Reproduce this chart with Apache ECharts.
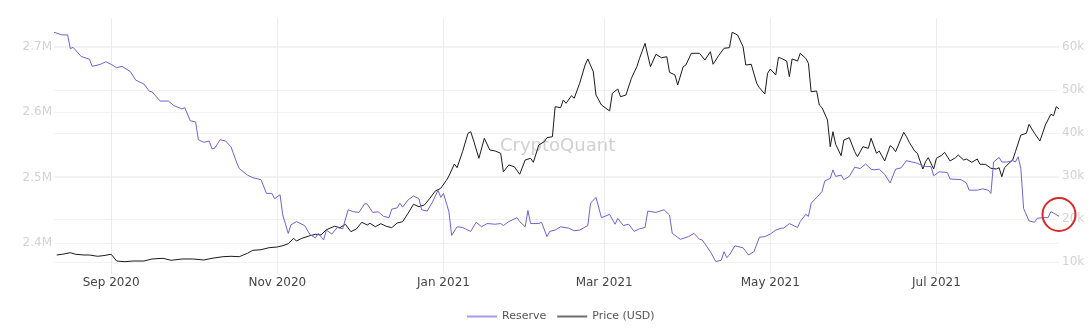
<!DOCTYPE html>
<html><head><meta charset="utf-8">
<script src="https://cdn.jsdelivr.net/npm/echarts@6/dist/echarts.min.js"></script>
<style>html,body{margin:0;padding:0;background:#fff}#c{width:1090px;height:330px}</style>
</head><body><div id="c"></div>
<script>
// ---- data ----
const firstDay = '2020-08-11';
const lastDay = '2021-08-15';
const xTickDates = ['2020-09-01','2020-11-01','2021-01-01','2021-03-01','2021-05-01','2021-07-01'];
const xTickLabels = ['Sep 2020','Nov 2020','Jan 2021','Mar 2021','May 2021','Jul 2021'];
const reserveTicks = [2.4, 2.5, 2.6, 2.7];          // millions BTC
const priceTicks = [10000, 20000, 30000, 40000, 50000, 60000];
const seriesNames = ['Reserve', 'Price (USD)'];

// Reserve (millions BTC)
const reserveData = [
['2020-08-11',2.722],['2020-08-14',2.718],['2020-08-16',2.718],['2020-08-17',2.697],['2020-08-18',2.699],['2020-08-21',2.685],['2020-08-24',2.681],['2020-08-25',2.670],['2020-08-28',2.673],['2020-08-30',2.677],
['2020-09-01',2.673],['2020-09-03',2.668],['2020-09-05',2.670],['2020-09-08',2.662],['2020-09-10',2.649],['2020-09-13',2.643],['2020-09-15',2.632],['2020-09-16',2.631],['2020-09-19',2.617],['2020-09-22',2.617],['2020-09-24',2.610],['2020-09-27',2.605],['2020-09-28',2.607],['2020-09-30',2.587],
['2020-10-02',2.585],['2020-10-03',2.558],['2020-10-05',2.554],['2020-10-07',2.556],['2020-10-08',2.544],['2020-10-09',2.545],['2020-10-11',2.558],['2020-10-13',2.556],['2020-10-15',2.547],['2020-10-17',2.524],['2020-10-18',2.514],['2020-10-21',2.504],['2020-10-23',2.500],['2020-10-26',2.497],['2020-10-28',2.476],['2020-10-30',2.476],['2020-10-31',2.468],
['2020-11-02',2.474],['2020-11-03',2.443],['2020-11-05',2.415],['2020-11-06',2.428],['2020-11-08',2.433],['2020-11-11',2.427],['2020-11-13',2.413],['2020-11-15',2.408],['2020-11-16',2.415],['2020-11-18',2.405],['2020-11-19',2.420],['2020-11-21',2.414],['2020-11-23',2.424],['2020-11-25',2.422],['2020-11-27',2.451],['2020-11-29',2.448],
['2020-12-01',2.447],['2020-12-03',2.460],['2020-12-04',2.460],['2020-12-06',2.447],['2020-12-08',2.448],['2020-12-10',2.441],['2020-12-12',2.439],['2020-12-13',2.452],['2020-12-15',2.454],['2020-12-16',2.461],['2020-12-17',2.455],['2020-12-19',2.466],['2020-12-21',2.472],['2020-12-23',2.468],['2020-12-24',2.451],['2020-12-26',2.449],['2020-12-28',2.463],['2020-12-30',2.481],['2020-12-31',2.470],
['2021-01-01',2.476],['2021-01-03',2.448],['2021-01-04',2.412],['2021-01-06',2.425],['2021-01-08',2.424],['2021-01-10',2.420],['2021-01-11',2.418],['2021-01-13',2.432],['2021-01-15',2.425],['2021-01-17',2.430],['2021-01-20',2.429],['2021-01-22',2.430],['2021-01-23',2.427],['2021-01-25',2.433],['2021-01-28',2.439],['2021-01-29',2.433],['2021-01-31',2.425],
['2021-02-01',2.450],['2021-02-02',2.430],['2021-02-05',2.430],['2021-02-06',2.432],['2021-02-08',2.410],['2021-02-09',2.418],['2021-02-11',2.420],['2021-02-13',2.425],['2021-02-16',2.423],['2021-02-18',2.419],['2021-02-20',2.420],['2021-02-23',2.427],['2021-02-24',2.461],['2021-02-26',2.470],['2021-02-28',2.439],
['2021-03-03',2.444],['2021-03-05',2.429],['2021-03-06',2.438],['2021-03-08',2.427],['2021-03-10',2.429],['2021-03-12',2.418],['2021-03-14',2.422],['2021-03-16',2.424],['2021-03-17',2.449],['2021-03-20',2.447],['2021-03-23',2.451],['2021-03-25',2.443],['2021-03-26',2.415],['2021-03-29',2.406],
['2021-04-01',2.410],['2021-04-03',2.415],['2021-04-05',2.406],['2021-04-06',2.405],['2021-04-09',2.387],['2021-04-11',2.372],['2021-04-13',2.374],['2021-04-14',2.387],['2021-04-15',2.378],['2021-04-16',2.382],['2021-04-18',2.396],['2021-04-21',2.393],['2021-04-23',2.382],['2021-04-25',2.387],['2021-04-27',2.409],['2021-04-29',2.410],
['2021-05-01',2.414],['2021-05-03',2.420],['2021-05-05',2.423],['2021-05-06',2.423],['2021-05-08',2.430],['2021-05-11',2.424],['2021-05-12',2.433],['2021-05-14',2.444],['2021-05-15',2.441],['2021-05-16',2.461],['2021-05-19',2.474],['2021-05-20',2.479],['2021-05-21',2.495],['2021-05-23',2.499],['2021-05-24',2.512],['2021-05-25',2.502],['2021-05-27',2.504],['2021-05-28',2.497],['2021-05-30',2.502],
['2021-06-01',2.516],['2021-06-03',2.514],['2021-06-05',2.521],['2021-06-07',2.513],['2021-06-08',2.512],['2021-06-10',2.513],['2021-06-12',2.505],['2021-06-14',2.492],['2021-06-16',2.513],['2021-06-18',2.515],['2021-06-20',2.526],['2021-06-22',2.524],['2021-06-24',2.522],['2021-06-26',2.518],['2021-06-27',2.517],['2021-06-29',2.517],['2021-06-30',2.503],
['2021-07-02',2.509],['2021-07-05',2.508],['2021-07-06',2.498],['2021-07-10',2.497],['2021-07-12',2.492],['2021-07-13',2.481],['2021-07-16',2.481],['2021-07-18',2.483],['2021-07-20',2.481],['2021-07-21',2.476],['2021-07-22',2.524],['2021-07-24',2.531],['2021-07-25',2.524],['2021-07-27',2.524],['2021-07-29',2.526],['2021-07-30',2.524],['2021-07-31',2.532],
['2021-08-01',2.514],['2021-08-02',2.453],['2021-08-04',2.434],['2021-08-06',2.432],['2021-08-07',2.438],['2021-08-09',2.439],['2021-08-11',2.439],['2021-08-12',2.448],['2021-08-13',2.446],['2021-08-15',2.441]
];

// Price (USD)
const priceData = [
['2020-08-12',11630],['2020-08-14',11790],['2020-08-17',12160],['2020-08-19',11790],['2020-08-22',11630],['2020-08-24',11630],['2020-08-27',11330],['2020-08-29',11470],
['2020-09-01',11790],['2020-09-03',10230],['2020-09-06',10070],['2020-09-09',10230],['2020-09-13',10230],['2020-09-16',10700],['2020-09-20',10860],['2020-09-23',10400],['2020-09-24',10470],['2020-09-27',10700],
['2020-10-01',10700],['2020-10-05',10470],['2020-10-08',10860],['2020-10-12',11230],['2020-10-15',11330],['2020-10-18',11230],['2020-10-21',12020],['2020-10-23',12720],['2020-10-26',12860],['2020-10-29',13330],
['2020-11-01',13490],['2020-11-03',13790],['2020-11-05',14260],['2020-11-07',15510],['2020-11-08',14880],['2020-11-10',15510],['2020-11-13',16120],['2020-11-15',16440],['2020-11-17',16280],['2020-11-19',17510],['2020-11-22',18300],['2020-11-24',17980],['2020-11-26',18770],['2020-11-28',17050],['2020-11-30',17670],
['2020-12-02',19230],['2020-12-04',18600],['2020-12-05',19000],['2020-12-07',18210],['2020-12-09',18910],['2020-12-11',18300],['2020-12-13',17980],['2020-12-15',19070],['2020-12-17',19370],['2020-12-19',21330],['2020-12-21',23420],['2020-12-23',22860],['2020-12-25',23260],['2020-12-27',24810],['2020-12-29',26510],['2020-12-31',27140],
['2021-01-02',28910],['2021-01-03',30000],['2021-01-05',32790],['2021-01-06',31930],['2021-01-08',35650],['2021-01-10',39930],['2021-01-11',40300],['2021-01-12',38370],['2021-01-14',34120],['2021-01-16',38770],['2021-01-18',36050],['2021-01-20',35810],['2021-01-22',35280],['2021-01-23',31000],['2021-01-25',32560],['2021-01-27',32160],['2021-01-29',30400],['2021-01-31',33720],
['2021-02-02',34120],['2021-02-03',33190],['2021-02-05',37210],['2021-02-07',37980],['2021-02-08',38910],['2021-02-10',39140],['2021-02-11',46120],['2021-02-13',45880],['2021-02-14',47670],['2021-02-15',46910],['2021-02-17',48670],['2021-02-18',48070],['2021-02-20',51560],['2021-02-22',55810],['2021-02-23',57210],['2021-02-25',54260],['2021-02-26',48840],['2021-02-28',46510],
['2021-03-03',45120],['2021-03-04',49230],['2021-03-06',50230],['2021-03-07',48440],['2021-03-09',48840],['2021-03-11',52720],['2021-03-13',55420],['2021-03-14',57370],['2021-03-16',60860],['2021-03-18',55420],['2021-03-20',58300],['2021-03-22',57510],['2021-03-24',57740],['2021-03-25',54120],['2021-03-27',53490],['2021-03-28',51160],['2021-03-30',55420],['2021-03-31',55810],
['2021-04-02',58530],['2021-04-05',58530],['2021-04-07',56980],['2021-04-09',58910],['2021-04-10',55980],['2021-04-12',57980],['2021-04-14',59700],['2021-04-16',59840],['2021-04-17',63420],['2021-04-19',62790],['2021-04-21',60070],['2021-04-22',55810],['2021-04-24',55980],['2021-04-26',51560],['2021-04-27',50530],['2021-04-29',49070],['2021-04-30',53880],
['2021-05-01',54880],['2021-05-03',53490],['2021-05-04',57600],['2021-05-05',57370],['2021-05-07',56740],['2021-05-08',53090],['2021-05-09',57210],['2021-05-11',56740],['2021-05-12',58530],['2021-05-14',57370],['2021-05-15',56210],['2021-05-16',49600],['2021-05-18',49770],['2021-05-19',46510],['2021-05-20',45880],['2021-05-22',43020],['2021-05-23',36810],['2021-05-24',40300],['2021-05-25',37370],['2021-05-27',34720],['2021-05-28',38370],['2021-05-30',38910],
['2021-06-01',35650],['2021-06-02',34490],['2021-06-04',36810],['2021-06-06',36440],['2021-06-07',38770],['2021-06-09',35280],['2021-06-10',35810],['2021-06-12',33490],['2021-06-14',37050],['2021-06-15',36580],['2021-06-16',35650],['2021-06-19',40160],['2021-06-20',39140],['2021-06-21',37840],['2021-06-23',35810],['2021-06-24',35280],['2021-06-26',31630],['2021-06-27',33330],['2021-06-28',34260],['2021-06-30',31630],
['2021-07-01',34120],['2021-07-03',34880],['2021-07-04',35510],['2021-07-06',33490],['2021-07-08',34260],['2021-07-09',34880],['2021-07-11',33720],['2021-07-12',33950],['2021-07-14',33190],['2021-07-16',33950],['2021-07-17',32720],['2021-07-19',32720],['2021-07-21',31790],['2021-07-23',31630],['2021-07-24',31930],['2021-07-25',29840],['2021-07-26',31930],['2021-07-28',33190],['2021-07-29',33720],['2021-07-30',35650],
['2021-08-01',39530],['2021-08-03',39930],['2021-08-04',42020],['2021-08-06',39930],['2021-08-08',38140],['2021-08-10',41860],['2021-08-12',44350],['2021-08-13',44020],['2021-08-14',46120],['2021-08-15',45580]
];

// ---- daily category axis ----
const categories = [];
(function () {
  const t0 = Date.parse(firstDay + 'T00:00:00Z'), t1 = Date.parse(lastDay + 'T00:00:00Z');
  for (let t = t0; t <= t1; t += 86400000) categories.push(new Date(t).toISOString().slice(0, 10));
})();
const tickLabelMap = {};
xTickDates.forEach((d, i) => { tickLabelMap[d] = xTickLabels[i]; });
const isTick = (idx, val) => tickLabelMap[val] !== undefined;

const FONT = 'DejaVu Sans';
const chart = echarts.init(document.getElementById('c'), null, {renderer: 'canvas'});
chart.setOption({
  animation: false,
  backgroundColor: '#ffffff',
  textStyle: {fontFamily: FONT},
  grid: {left: 54, right: 31, top: 18, bottom: 62, containLabel: false},
  legend: {
    data: [
      {name: seriesNames[0], itemStyle: {color: '#a89ce6'}},
      {name: seriesNames[1], itemStyle: {color: '#6e6e6e'}}
    ],
    icon: 'rect', itemWidth: 30, itemHeight: 2, itemGap: 11,
    left: 462, top: 306,
    textStyle: {fontFamily: FONT, fontSize: 11, color: '#555'}
  },
  xAxis: {
    type: 'category', data: categories, boundaryGap: false,
    axisLine: {show: false},
    axisTick: {show: true, interval: isTick, length: 6, lineStyle: {color: '#ececec'}},
    splitLine: {show: true, interval: isTick, lineStyle: {color: '#ececec', width: 1}},
    axisLabel: {interval: isTick, formatter: v => tickLabelMap[v] || '', color: '#444', fontSize: 12, margin: 9, fontFamily: FONT}
  },
  yAxis: [
    {
      type: 'value', position: 'left', min: 2.36214, max: 2.74382,
      axisLine: {show: false},
      axisTick: {show: false, customValues: reserveTicks},
      splitLine: {show: true, lineStyle: {color: '#f2f2f2'}},
      axisLabel: {customValues: reserveTicks, formatter: v => v.toFixed(1) + 'M', color: '#d2d2d2', fontSize: 12, margin: 2, fontFamily: FONT}
    },
    {
      type: 'value', position: 'right', min: 8605, max: 66744,
      axisLine: {show: false},
      axisTick: {show: false, customValues: priceTicks},
      splitLine: {show: true, lineStyle: {color: '#f2f2f2'}},
      axisLabel: {customValues: priceTicks, formatter: v => (v / 1000) + 'k', color: '#d2d2d2', fontSize: 12, margin: 3, fontFamily: FONT}
    }
  ],
  graphic: [
    {type: 'text', left: 500, top: 137, z: 0, silent: true,
     style: {text: 'CryptoQuant', fontFamily: FONT, fontSize: 18, fill: '#d0d0d0'}},
    {type: 'circle', z: 100, silent: true, shape: {cx: 1059, cy: 214.5, r: 16.5},
     style: {fill: 'none', stroke: '#d42a2a', lineWidth: 2}}
  ],
  series: [
    {name: seriesNames[0], type: 'line', yAxisIndex: 0, data: reserveData, symbol: 'none', connectNulls: true,
     lineStyle: {color: '#6f63cf', width: 1}, itemStyle: {color: '#6f63cf'}, z: 3},
    {name: seriesNames[1], type: 'line', yAxisIndex: 1, data: priceData, symbol: 'none', connectNulls: true,
     lineStyle: {color: '#1a1a1a', width: 1}, itemStyle: {color: '#1a1a1a'}, z: 2}
  ]
});
</script>
</body></html>
